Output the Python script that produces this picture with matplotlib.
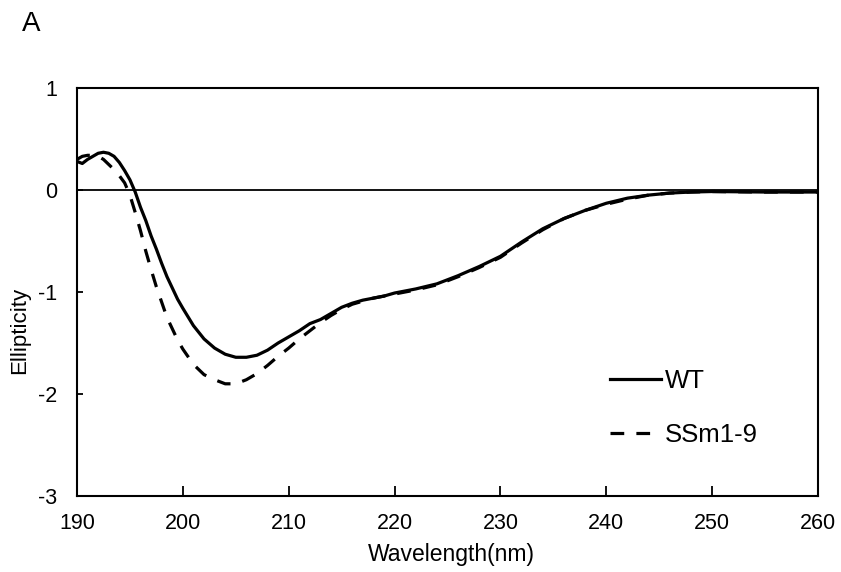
import matplotlib
matplotlib.use("Agg")
import matplotlib.pyplot as plt

plt.rcParams['font.family'] = ['Liberation Sans', 'DejaVu Sans']

wl_wt = [190, 190.5, 191, 191.5, 192, 192.5, 193, 193.5, 194, 194.5, 195, 195.5,
         196, 196.5, 197, 197.5, 198, 198.5, 199, 199.5, 200, 201, 202, 203, 204,
         205, 206, 207, 208, 209, 210, 211, 212, 213, 214, 215, 216, 217, 218, 219,
         220, 222, 224, 226, 228, 230, 232, 234, 236, 238, 240, 242, 244, 246, 248,
         250, 255, 260]
wt = [0.28, 0.26, 0.30, 0.33, 0.36, 0.37, 0.36, 0.33, 0.27, 0.19, 0.10, -0.02,
      -0.17, -0.30, -0.45, -0.58, -0.72, -0.85, -0.96, -1.07, -1.16, -1.33, -1.46, -1.55, -1.61,
      -1.64, -1.64, -1.62, -1.57, -1.50, -1.44, -1.38, -1.31, -1.27, -1.21, -1.15, -1.11, -1.08, -1.06, -1.04,
      -1.01, -0.97, -0.92, -0.84, -0.75, -0.65, -0.51, -0.38, -0.28, -0.20, -0.13, -0.08, -0.05, -0.03, -0.02,
      -0.015, -0.02, -0.02]

wl_ss = [190, 190.5, 191, 191.5, 192, 192.5, 193, 193.5, 194, 194.5, 195, 195.5,
         196, 196.5, 197, 197.5, 198, 198.5, 199, 199.5, 200, 201, 202, 203, 204,
         205, 206, 207, 208, 209, 210, 211, 212, 213, 214, 215, 216, 217, 218, 219,
         220, 222, 224, 226, 228, 230, 232, 234, 236, 238, 240, 242, 244, 246, 248,
         250, 255, 260]
ss = [0.30, 0.33, 0.34, 0.34, 0.33, 0.30, 0.25, 0.20, 0.14, 0.07, -0.05, -0.22,
      -0.40, -0.60, -0.78, -0.95, -1.10, -1.25, -1.36, -1.47, -1.56, -1.71, -1.81, -1.86, -1.90,
      -1.90, -1.86, -1.80, -1.72, -1.63, -1.55, -1.46, -1.38, -1.30, -1.23, -1.17, -1.12, -1.09, -1.06, -1.04,
      -1.02, -0.98, -0.93, -0.85, -0.76, -0.66, -0.52, -0.39, -0.28, -0.20, -0.14, -0.09, -0.05, -0.03, -0.02,
      -0.015, -0.02, -0.02]

xticks = [190, 200, 210, 220, 230, 240, 250, 260]
yticks = [1, 0, -1, -2, -3]

fig = plt.figure(figsize=(8.41, 5.72), dpi=100)
ax = fig.add_axes([77/841, 1-496/572, (818-77)/841, (496-88)/572])

ax.axhline(0, color='black', lw=1.3, zorder=1)
ax.plot(wl_wt, wt, color='black', lw=2.3, label='WT', zorder=3)
ax.plot(wl_ss, ss, color='black', lw=2.3, dashes=(4.3, 3.8), label='SSm1-9', zorder=2)

ax.set_xlim(190, 260)
ax.set_ylim(-3, 1)
ax.set_xticks(xticks)
ax.set_yticks(yticks)
ax.set_xticklabels([str(t) for t in xticks])
ax.set_yticklabels([str(t) for t in yticks])
ax.tick_params(axis='x', direction='in', length=7, width=1.3, labelsize=15.5, pad=12)
ax.tick_params(axis='y', direction='in', length=4, width=1.3, labelsize=15.5, pad=14)
for s in ax.spines.values():
    s.set_linewidth(1.5)

ax.set_xlabel('Wavelength(nm)', fontsize=16.5, va='center')
ax.xaxis.set_label_coords((451-77)/741, -(555-496)/408)
ax.set_ylabel('Ellipticity', fontsize=16, va='center')
ax.yaxis.set_label_coords(-(77-20)/741, (496-330)/408)

ax.legend(loc='upper left', bbox_to_anchor=(610/841, 1-369/572),
          bbox_transform=fig.transFigure, frameon=False, fontsize=18.5,
          handlelength=2.0, handletextpad=0.15, labelspacing=1.15,
          borderpad=0, borderaxespad=0)

fig.text(22/841, 1-24/572, 'A', fontsize=20, ha='left', va='center')

fig.savefig('out.png', dpi=100)
